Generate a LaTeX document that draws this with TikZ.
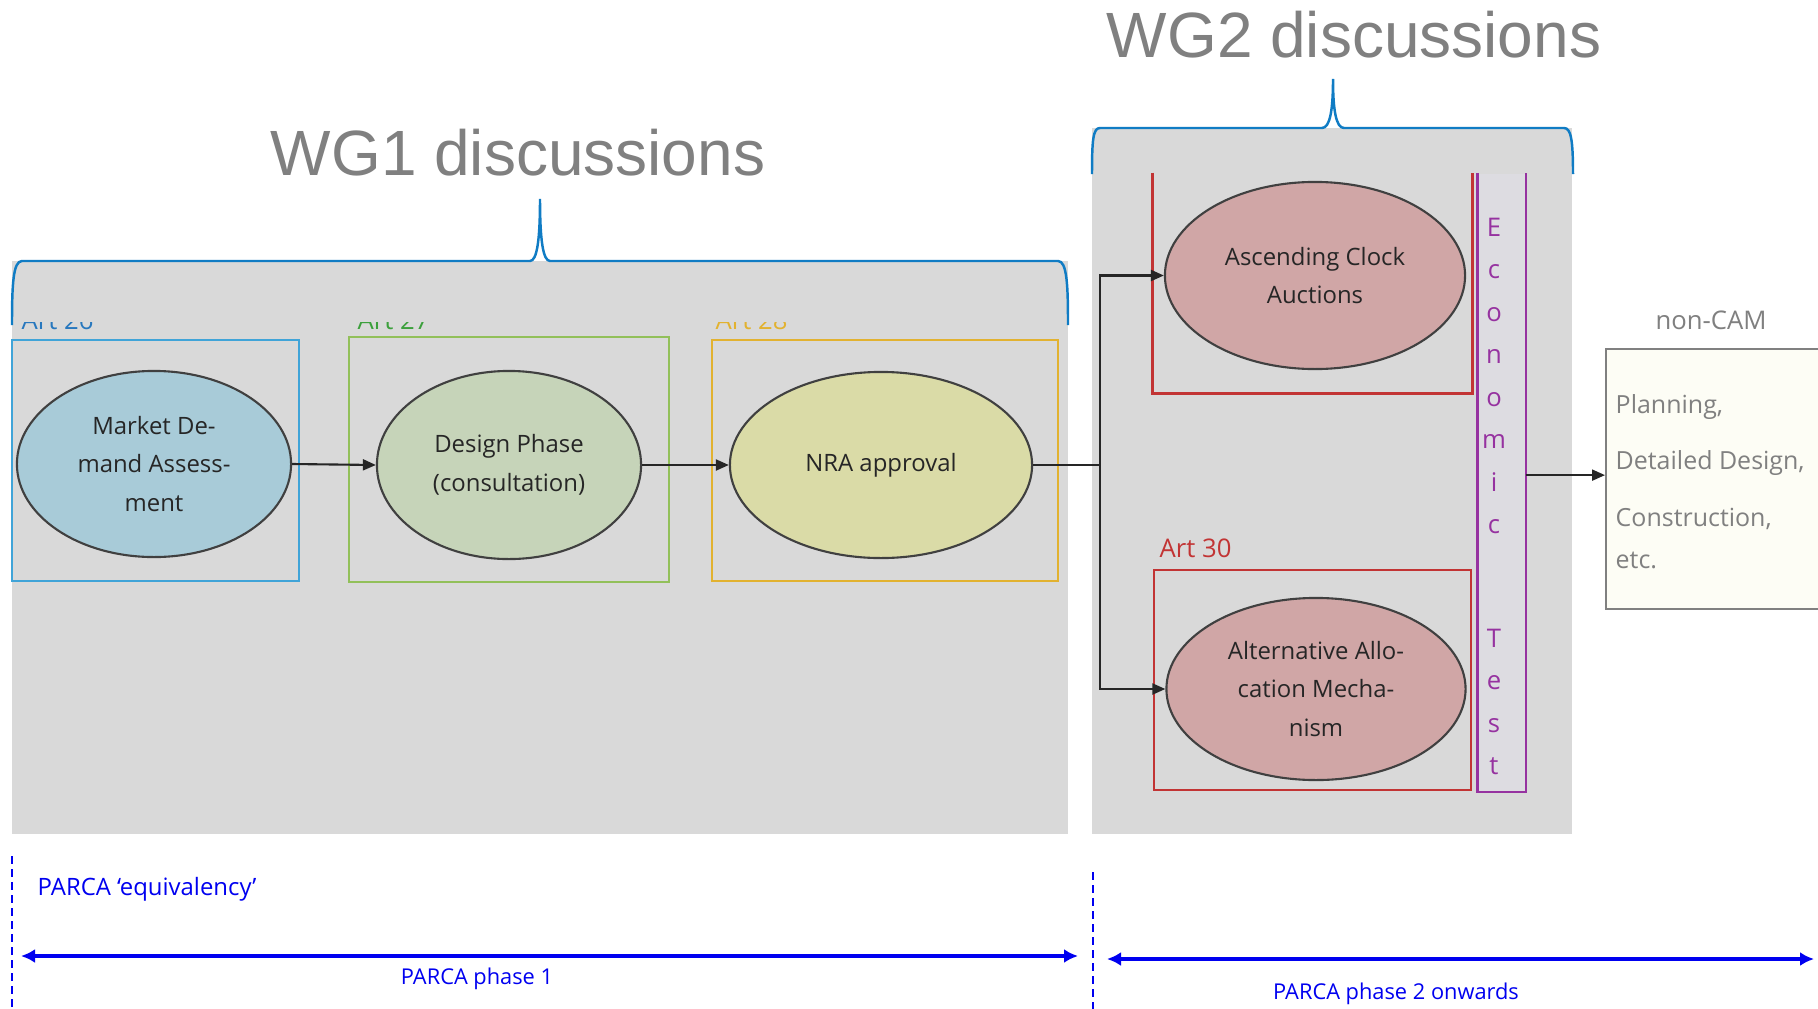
\documentclass[tikz,border=0pt]{standalone}
\usepackage{fontspec}
\setmainfont{Open Sans}
\newfontfamily\wgfont{Liberation Sans}
\usetikzlibrary{shapes.geometric,arrows.meta}

\definecolor{panelgray}{RGB}{217,217,217}
\definecolor{bracecol}{RGB}{16,124,196}
\definecolor{titlegray}{RGB}{128,128,128}
\definecolor{mdafill}{RGB}{168,203,216}
\definecolor{dpfill}{RGB}{198,212,185}
\definecolor{nrafill}{RGB}{218,219,167}
\definecolor{camfill}{RGB}{208,166,166}
\definecolor{artblue}{RGB}{64,164,216}
\definecolor{artbluetext}{RGB}{40,120,190}
\definecolor{artgreen}{RGB}{146,192,90}
\definecolor{artgreentext}{RGB}{60,160,60}
\definecolor{artgold}{RGB}{226,178,48}
\definecolor{artred}{RGB}{194,52,52}
\definecolor{econpurple}{RGB}{150,50,160}
\definecolor{econfill}{RGB}{221,220,225}
\definecolor{parcablue}{RGB}{0,0,240}
\definecolor{noncamfill}{RGB}{253,253,245}

\begin{document}
\begin{tikzpicture}[x=0.01cm,y=-0.01cm,
    oval/.style={ellipse,draw=black!75,line width=0.6pt,inner sep=0pt,align=center,
        text=black!85,font=\fontsize{6.8}{11}\selectfont},
    artbox/.style={rectangle,line width=0.7pt,inner sep=0pt},
    artlabel/.style={anchor=base west,inner sep=0pt,font=\fontsize{7.3}{9}\selectfont},
    flow/.style={-{Triangle[length=0.13cm,width=0.11cm]},line width=0.6pt,black!85},
    brace/.style={bracecol,line width=0.7pt},
    wglabel/.style={font=\wgfont\fontsize{18.2}{22}\selectfont,text=titlegray},
    econletter/.style={anchor=base,inner sep=0pt,text=econpurple,font=\fontsize{7.3}{9}\selectfont},
    parca/.style={parcablue,line width=1.3pt,
        {Latex[length=0.14cm,width=0.14cm]}-{Latex[length=0.14cm,width=0.14cm]}},
    phase/.style={text=parcablue,inner sep=0pt,font=\fontsize{6.2}{8}\selectfont},
    divider/.style={parcablue,line width=0.45pt,dash pattern=on 0.08cm off 0.05cm},
    greytext/.style={text=titlegray,inner sep=0pt,font=\fontsize{7.1}{16}\selectfont}
]
\useasboundingbox (0,0) rectangle (1818,1009);
\clip (0,0) rectangle (1818,1009);
\fill[white] (0,0) rectangle (1818,1009);

\fill[panelgray] (12,261) rectangle (1068,834);
\fill[panelgray] (1092,128) rectangle (1572,834);

\node[wglabel] (wgone) at (518,153) {WG1 discussions};
\node[wglabel] (wgtwo) at (1354,35) {WG2 discussions};

\draw[brace] (12,325) .. controls (12,285) and (13,261) .. (22,261) -- (530,261)
    .. controls (537,261) and (540,240) .. (540,199)
    .. controls (540,240) and (543,261) .. (550,261) -- (1058,261)
    .. controls (1067,261) and (1068,285) .. (1068,325);
\draw[brace] (1092,174) .. controls (1092,140) and (1093,128) .. (1100,128) -- (1322,128)
    .. controls (1330,128) and (1333,110) .. (1333,79)
    .. controls (1333,110) and (1336,128) .. (1344,128) -- (1564,128)
    .. controls (1571,128) and (1573,140) .. (1573,174);

\begin{scope}
\clip (12,322) rectangle (1068,340);
\foreach \x/\n/\c in {21/26/artbluetext, 357/27/artgreentext, 715/28/artgold}
{
    \node[artlabel,text=\c] (lbl\n) at (\x,329) {Art \n};
}
\end{scope}

\node[artbox,draw=artblue,minimum width=2.87cm,minimum height=2.41cm] (art26) at (155.5,460.5) {};
\node[artbox,draw=artgreen,minimum width=3.20cm,minimum height=2.45cm] (art27) at (509,459.5) {};
\node[artbox,draw=artgold,minimum width=3.46cm,minimum height=2.41cm] (art28) at (885,460.5) {};

\node[oval,fill=mdafill,minimum width=2.74cm,minimum height=1.86cm] (mda) at (154,464) {Market De-\\mand Assess-\\ment};
\node[oval,fill=dpfill,minimum width=2.64cm,minimum height=1.88cm] (dp) at (509,465) {Design Phase\\(consultation)};
\node[oval,fill=nrafill,minimum width=3.02cm,minimum height=1.86cm] (nra) at (881,465) {NRA approval};

\node[artbox,minimum width=3.17cm,minimum height=2.18cm] (acmbox) at (1312.5,283) {};
\draw[artred,line width=0.7pt] (acmbox.north west) -- (acmbox.south west) -- (acmbox.south east) -- (acmbox.north east);
\node[artbox,draw=artred,minimum width=3.17cm,minimum height=2.20cm] (art30) at (1312.5,680) {};
\node[artlabel,text=artred] (lbl30) at (1159,557) {Art 30};

\node[oval,fill=camfill,minimum width=3.00cm,minimum height=1.87cm] (acm) at (1315,275.5) {Ascending Clock\\Auctions};
\node[oval,fill=camfill,minimum width=2.99cm,minimum height=1.82cm] (aam) at (1316,689) {Alternative Allo-\\cation Mecha-\\nism};

\node[rectangle,fill=econfill,inner sep=0pt,minimum width=0.47cm,minimum height=6.17cm] (econ) at (1501.5,482.5) {};
\draw[econpurple,line width=0.7pt] (econ.north west) -- (econ.south west) -- (econ.south east) -- (econ.north east);
\foreach \ch/\y [count=\i] in {E/236, c/278, o/321, n/363, o/406, m/448, i/491, c/533, T/647, e/689, s/732, t/774}
{
    \node[econletter] (econ\i) at (1494,\y) {\ch};
}

\node[rectangle,draw=black!50,fill=noncamfill,line width=0.6pt,inner sep=0pt,anchor=north west,
    minimum width=3.0cm,minimum height=2.60cm] (noncam) at (1605,348) {};
\node[greytext,font=\fontsize{7.3}{9}\selectfont] (noncamtitle) at (1711,320) {non-CAM};
\node[greytext,anchor=north west,align=left] (noncamlist) at (1615,394) {Planning,\\Detailed Design,\\Construction,\\[-4pt]etc.};

\coordinate (split) at (1100,465);
\coordinate (tap) at ([yshift=0.04cm]noncam.west);
\draw[flow] (mda.east) -- (dp.west);
\draw[flow] (dp.east) -- (nra.west);
\draw[line width=0.6pt,black!85] (nra.east) -- (split);
\draw[flow] (split) |- (acm.west);
\draw[flow] (split) |- (aam.west);
\draw[flow] (econ.east |- tap) -- (tap);

\coordinate (dva) at (12,856);
\coordinate (dvb) at (12,1009);
\coordinate (dwa) at (1093,872);
\coordinate (dwb) at (1093,1009);
\draw[divider] (dva) -- (dvb);
\draw[divider] (dwa) -- (dwb);

\coordinate (pa) at (21,956);
\coordinate (pb) at (1078,956);
\coordinate (pc) at (1107,959);
\coordinate (pd) at (1814,959);
\draw[parca] (pa) -- (pb);
\draw[parca] (pc) -- (pd);

\node[phase,anchor=west,font=\fontsize{6.8}{8}\selectfont] (equiv) at (37,889) {PARCA ‘equivalency’};
\node[phase] (phaseone) at (477,979) {PARCA phase 1};
\node[phase] (phasetwo) at (1396,994) {PARCA phase 2 onwards};

\end{tikzpicture}
\end{document}
